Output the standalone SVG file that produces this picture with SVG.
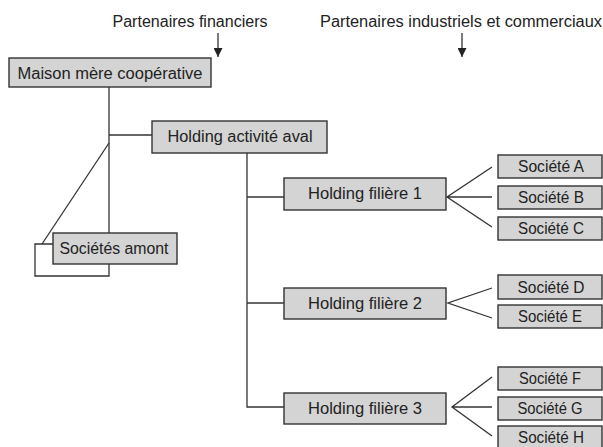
<svg xmlns="http://www.w3.org/2000/svg" width="603" height="447" viewBox="0 0 603 447">
<style>
.box{fill:#d4d4d4;stroke:#333;stroke-width:1.4}
.t{font-family:"Liberation Sans",Arial,sans-serif;font-size:16px;fill:#222;text-anchor:middle}
.c{fill:none;stroke:#333;stroke-width:1.3}
</style>
<defs>
<marker id="ah" viewBox="0 0 10 10" refX="10" refY="5" markerWidth="10" markerHeight="9" markerUnits="userSpaceOnUse" orient="auto">
<path d="M0,0 L10,5 L0,10 z" fill="#222"/>
</marker>
</defs>
<g id="labels">
<text class="t" x="190" y="27" textLength="155" lengthAdjust="spacingAndGlyphs">Partenaires financiers</text>
<text class="t" x="461" y="27" textLength="282" lengthAdjust="spacingAndGlyphs">Partenaires industriels et commerciaux</text>
</g>
<g id="connectors">
<line class="c" x1="218" y1="33" x2="218" y2="57" marker-end="url(#ah)"/>
<line class="c" x1="462" y1="33" x2="462" y2="57" marker-end="url(#ah)"/>
<path class="c" d="M109,87 V276 H35 V244 H53"/>
<line class="c" x1="109" y1="143" x2="42" y2="244"/>
<line class="c" x1="109" y1="135" x2="152" y2="135"/>
<path class="c" d="M247,153 V407 H284"/>
<line class="c" x1="247" y1="197" x2="284" y2="197"/>
<line class="c" x1="247" y1="303" x2="284" y2="303"/>
<path class="c" d="M492,167 L447,197 L492,227 M447,197 H492"/>
<path class="c" d="M492,288 L448,303 L492,318"/>
<path class="c" d="M492,377 L452,407 L492,436 M452,407 H492"/>
</g>
<g id="maison"><rect class="box" x="9" y="58" width="202" height="29"/><text class="t" x="110" y="79" textLength="185" lengthAdjust="spacingAndGlyphs">Maison mère coopérative</text></g>
<g id="aval"><rect class="box" x="152" y="121" width="175" height="32"/><text class="t" x="240" y="142" textLength="145" lengthAdjust="spacingAndGlyphs">Holding activité aval</text></g>
<g id="amont"><rect class="box" x="53" y="233" width="124" height="31"/><text class="t" x="114" y="254" textLength="109" lengthAdjust="spacingAndGlyphs">Sociétés amont</text></g>
<g id="hf1"><rect class="box" x="284" y="178" width="162" height="32"/><text class="t" x="365" y="199" textLength="114" lengthAdjust="spacingAndGlyphs">Holding filière 1</text></g>
<g id="hf2"><rect class="box" x="284" y="288" width="162" height="31"/><text class="t" x="365" y="309" textLength="114" lengthAdjust="spacingAndGlyphs">Holding filière 2</text></g>
<g id="hf3"><rect class="box" x="284" y="393" width="162" height="31"/><text class="t" x="365" y="414" textLength="114" lengthAdjust="spacingAndGlyphs">Holding filière 3</text></g>
<g id="sA"><rect class="box" x="498" y="155" width="104" height="23"/><text class="t" x="551" y="172" textLength="66" lengthAdjust="spacingAndGlyphs">Société A</text></g>
<g id="sB"><rect class="box" x="498" y="186" width="104" height="23"/><text class="t" x="551" y="203" textLength="66" lengthAdjust="spacingAndGlyphs">Société B</text></g>
<g id="sC"><rect class="box" x="498" y="217" width="104" height="23"/><text class="t" x="551" y="234" textLength="66" lengthAdjust="spacingAndGlyphs">Société C</text></g>
<g id="sD"><rect class="box" x="498" y="275" width="104" height="24"/><text class="t" x="551" y="293" textLength="67" lengthAdjust="spacingAndGlyphs">Société D</text></g>
<g id="sE"><rect class="box" x="498" y="305" width="104" height="23"/><text class="t" x="550" y="322" textLength="64" lengthAdjust="spacingAndGlyphs">Société E</text></g>
<g id="sF"><rect class="box" x="498" y="367" width="104" height="23"/><text class="t" x="550" y="384" textLength="62" lengthAdjust="spacingAndGlyphs">Société F</text></g>
<g id="sG"><rect class="box" x="498" y="397" width="104" height="23"/><text class="t" x="550" y="414" textLength="65" lengthAdjust="spacingAndGlyphs">Société G</text></g>
<g id="sH"><rect class="box" x="498" y="426" width="104" height="24"/><text class="t" x="551" y="443" textLength="66" lengthAdjust="spacingAndGlyphs">Société H</text></g>
</svg>
